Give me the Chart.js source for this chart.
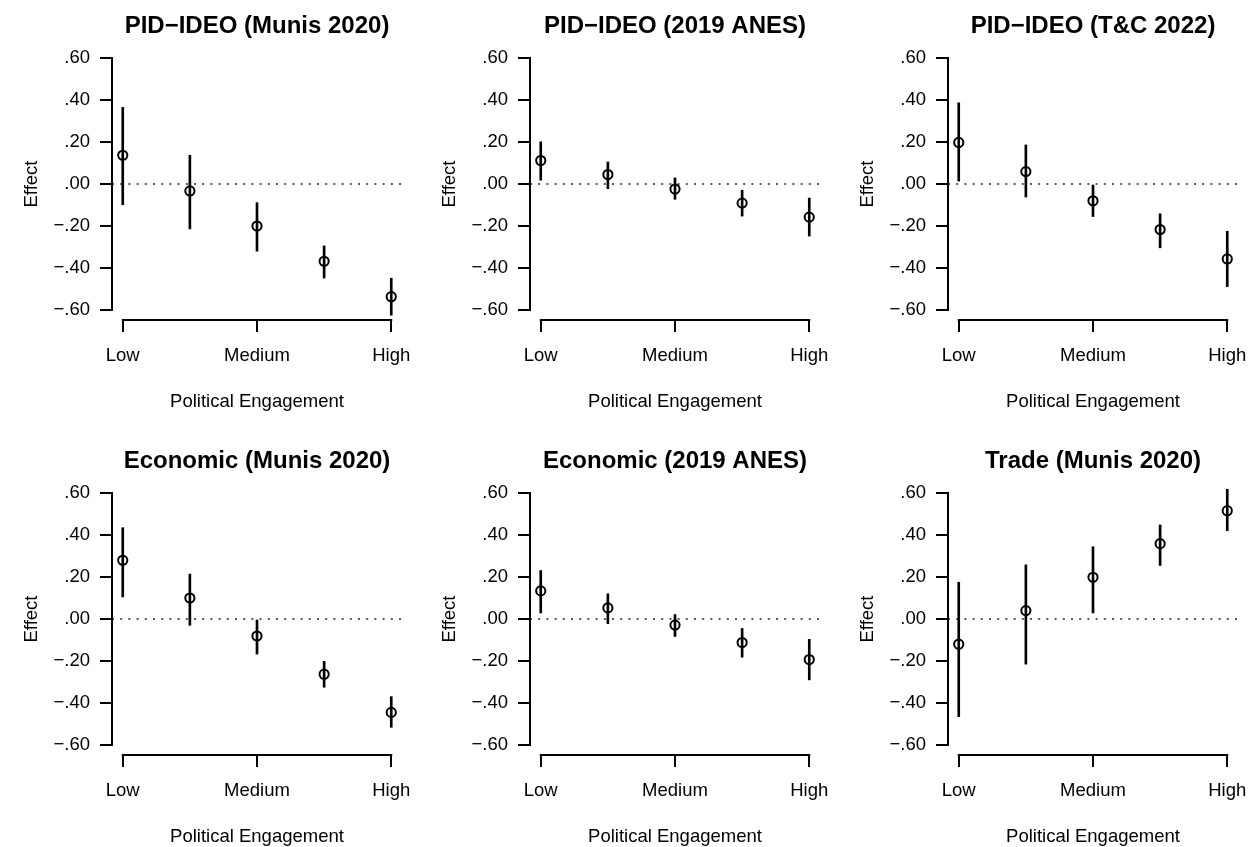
<!DOCTYPE html>
<html>
<head>
<meta charset="utf-8">
<title>Effect by Political Engagement</title>
<script src="https://cdn.jsdelivr.net/npm/chart.js@4.4.1/dist/chart.umd.min.js"></script>
<style>
    html, body { margin: 0; padding: 0; background: #fff; }
    body { width: 1256px; height: 847px; position: relative; overflow: hidden; }
    .panel { position: absolute; width: 418px; height: 413px; }
</style>
</head>
<body>
<div class="panel" style="left:0px;top:0px"><canvas id="p0" width="418" height="413"></canvas></div>
<div class="panel" style="left:418px;top:0px"><canvas id="p1" width="418" height="413"></canvas></div>
<div class="panel" style="left:836px;top:0px"><canvas id="p2" width="418" height="413"></canvas></div>
<div class="panel" style="left:0px;top:435px"><canvas id="p3" width="418" height="413"></canvas></div>
<div class="panel" style="left:418px;top:435px"><canvas id="p4" width="418" height="413"></canvas></div>
<div class="panel" style="left:836px;top:435px"><canvas id="p5" width="418" height="413"></canvas></div>
<script>
// Engagement levels (1 = Low ... 5 = High)
const levels = [1, 2, 3, 4, 5];
const xTicks = [1, 3, 5];
const xTickLabels = ['Low', 'Medium', 'High'];
const yTicks = [-0.6, -0.4, -0.2, 0, 0.2, 0.4, 0.6];
const yTickLabels = ['\u2212.60', '\u2212.40', '\u2212.20', '.00', '.20', '.40', '.60'];

const titles = [
    'PID\u2212IDEO (Munis 2020)',
    'PID\u2212IDEO (2019 ANES)',
    'PID\u2212IDEO (T&C 2022)',
    'Economic (Munis 2020)',
    'Economic (2019 ANES)',
    'Trade (Munis 2020)'
];

// Point estimates and confidence bounds, one set per panel
const pidMunisEst = [0.137, -0.033, -0.200, -0.368, -0.537];
const pidMunisLo  = [-0.099, -0.214, -0.320, -0.448, -0.625];
const pidMunisHi  = [0.365, 0.137, -0.089, -0.295, -0.449];

const pidAnesEst = [0.112, 0.045, -0.024, -0.091, -0.158];
const pidAnesLo  = [0.018, -0.022, -0.073, -0.153, -0.248];
const pidAnesHi  = [0.201, 0.105, 0.029, -0.030, -0.067];

const pidTcEst = [0.198, 0.059, -0.080, -0.217, -0.357];
const pidTcLo  = [0.014, -0.062, -0.155, -0.304, -0.489];
const pidTcHi  = [0.387, 0.186, 0.000, -0.142, -0.225];

const econMunisEst = [0.280, 0.100, -0.081, -0.263, -0.445];
const econMunisLo  = [0.105, -0.030, -0.167, -0.325, -0.516];
const econMunisHi  = [0.435, 0.214, 0.000, -0.202, -0.370];

const econAnesEst = [0.134, 0.053, -0.029, -0.112, -0.193];
const econAnesLo  = [0.029, -0.022, -0.083, -0.182, -0.290];
const econAnesHi  = [0.231, 0.120, 0.021, -0.045, -0.097];

const tradeMunisEst = [-0.120, 0.040, 0.199, 0.359, 0.516];
const tradeMunisLo  = [-0.465, -0.215, 0.029, 0.255, 0.421];
const tradeMunisHi  = [0.175, 0.258, 0.344, 0.448, 0.618];

const panels = [
    { est: pidMunisEst, lo: pidMunisLo, hi: pidMunisHi },
    { est: pidAnesEst, lo: pidAnesLo, hi: pidAnesHi },
    { est: pidTcEst, lo: pidTcLo, hi: pidTcHi },
    { est: econMunisEst, lo: econMunisLo, hi: econMunisHi },
    { est: econAnesEst, lo: econAnesLo, hi: econAnesHi },
    { est: tradeMunisEst, lo: tradeMunisLo, hi: tradeMunisHi }
];

const ink = '#000';
const family = '"Liberation Sans", Arial, Helvetica, sans-serif';

// R-style axis lines: only span first to last tick
const rAxes = {
    id: 'rAxes',
    afterDraw(chart) {
        const { ctx, chartArea, scales: { x, y } } = chart;
        ctx.save();
        ctx.strokeStyle = ink;
        ctx.lineWidth = 2;
        ctx.beginPath();
        ctx.moveTo(chartArea.left, y.getPixelForValue(yTicks[0]) + 1);
        ctx.lineTo(chartArea.left, y.getPixelForValue(yTicks[yTicks.length - 1]) - 1);
        ctx.moveTo(x.getPixelForValue(xTicks[0]) - 1, chartArea.bottom);
        ctx.lineTo(x.getPixelForValue(xTicks[xTicks.length - 1]) + 1, chartArea.bottom);
        ctx.stroke();
        ctx.restore();
    }
};

function makePanel(i) {
    const p = panels[i];
    const xMin = 0.84, xMax = 5.16;

    new Chart(document.getElementById('p' + i), {
        type: 'scatter',
        data: {
            datasets: [
                {
                    type: 'scatter',
                    data: levels.map((lv, k) => ({ x: lv, y: p.est[k] })),
                    pointStyle: 'circle',
                    pointRadius: 4.6,
                    borderWidth: 2,
                    borderColor: ink,
                    backgroundColor: 'rgba(0,0,0,0)',
                    order: 0
                },
                {
                    type: 'bar',
                    data: levels.map((lv, k) => ({ x: lv, y: [p.lo[k], p.hi[k]] })),
                    backgroundColor: ink,
                    borderWidth: 0,
                    barThickness: 2,
                    order: 1
                },
                {
                    type: 'line',
                    data: [{ x: xMin, y: 0 }, { x: xMax, y: 0 }],
                    borderColor: '#222',
                    borderWidth: 1.6,
                    borderDash: [2, 6.2],
                    pointRadius: 0,
                    order: 2
                }
            ]
        },
        options: {
            responsive: false,
            animation: false,
            events: [],
            layout: { padding: { left: 0, right: 16, top: 0, bottom: 0 } },
            plugins: {
                legend: { display: false },
                tooltip: { enabled: false },
                title: {
                    display: true,
                    fullSize: false,
                    text: titles[i],
                    color: ink,
                    font: { family: family, size: 24, weight: 'bold' },
                    padding: { top: 11.5, bottom: 7.7 }
                }
            },
            scales: {
                x: {
                    type: 'linear',
                    min: xMin,
                    max: xMax,
                    offset: false,
                    afterBuildTicks: s => { s.ticks = xTicks.map(v => ({ value: v })); },
                    afterFit: s => { s.height = 93; s.paddingLeft = 0; s.paddingRight = 0; },
                    border: { display: false },
                    grid: { offset: false, drawOnChartArea: false, drawTicks: true, tickLength: 12, color: ink, lineWidth: 2 },
                    ticks: {
                        color: ink,
                        padding: 13,
                        maxRotation: 0,
                        font: { family: family, size: 18.5 },
                        callback: (v, idx) => xTickLabels[idx]
                    },
                    title: {
                        display: true,
                        text: 'Political Engagement',
                        color: ink,
                        font: { family: family, size: 18.5 },
                        padding: { top: 0, bottom: 0 }
                    }
                },
                y: {
                    type: 'linear',
                    min: -0.648,
                    max: 0.648,
                    afterBuildTicks: s => { s.ticks = yTicks.map(v => ({ value: v })); },
                    afterFit: s => { s.width = 112; s.paddingTop = 0; s.paddingBottom = 0; },
                    border: { display: false },
                    grid: { drawOnChartArea: false, drawTicks: true, tickLength: 12, color: ink, lineWidth: 2 },
                    ticks: {
                        color: ink,
                        padding: 10,
                        font: { family: family, size: 18.5 },
                        callback: (v, idx) => yTickLabels[idx]
                    },
                    title: {
                        display: true,
                        text: 'Effect',
                        color: ink,
                        font: { family: family, size: 18.5 },
                        padding: { top: 20.5, bottom: 0 }
                    }
                }
            }
        },
        plugins: [rAxes]
    });
}

for (let i = 0; i < panels.length; i++) {
    makePanel(i);
}
</script>
</body>
</html>
